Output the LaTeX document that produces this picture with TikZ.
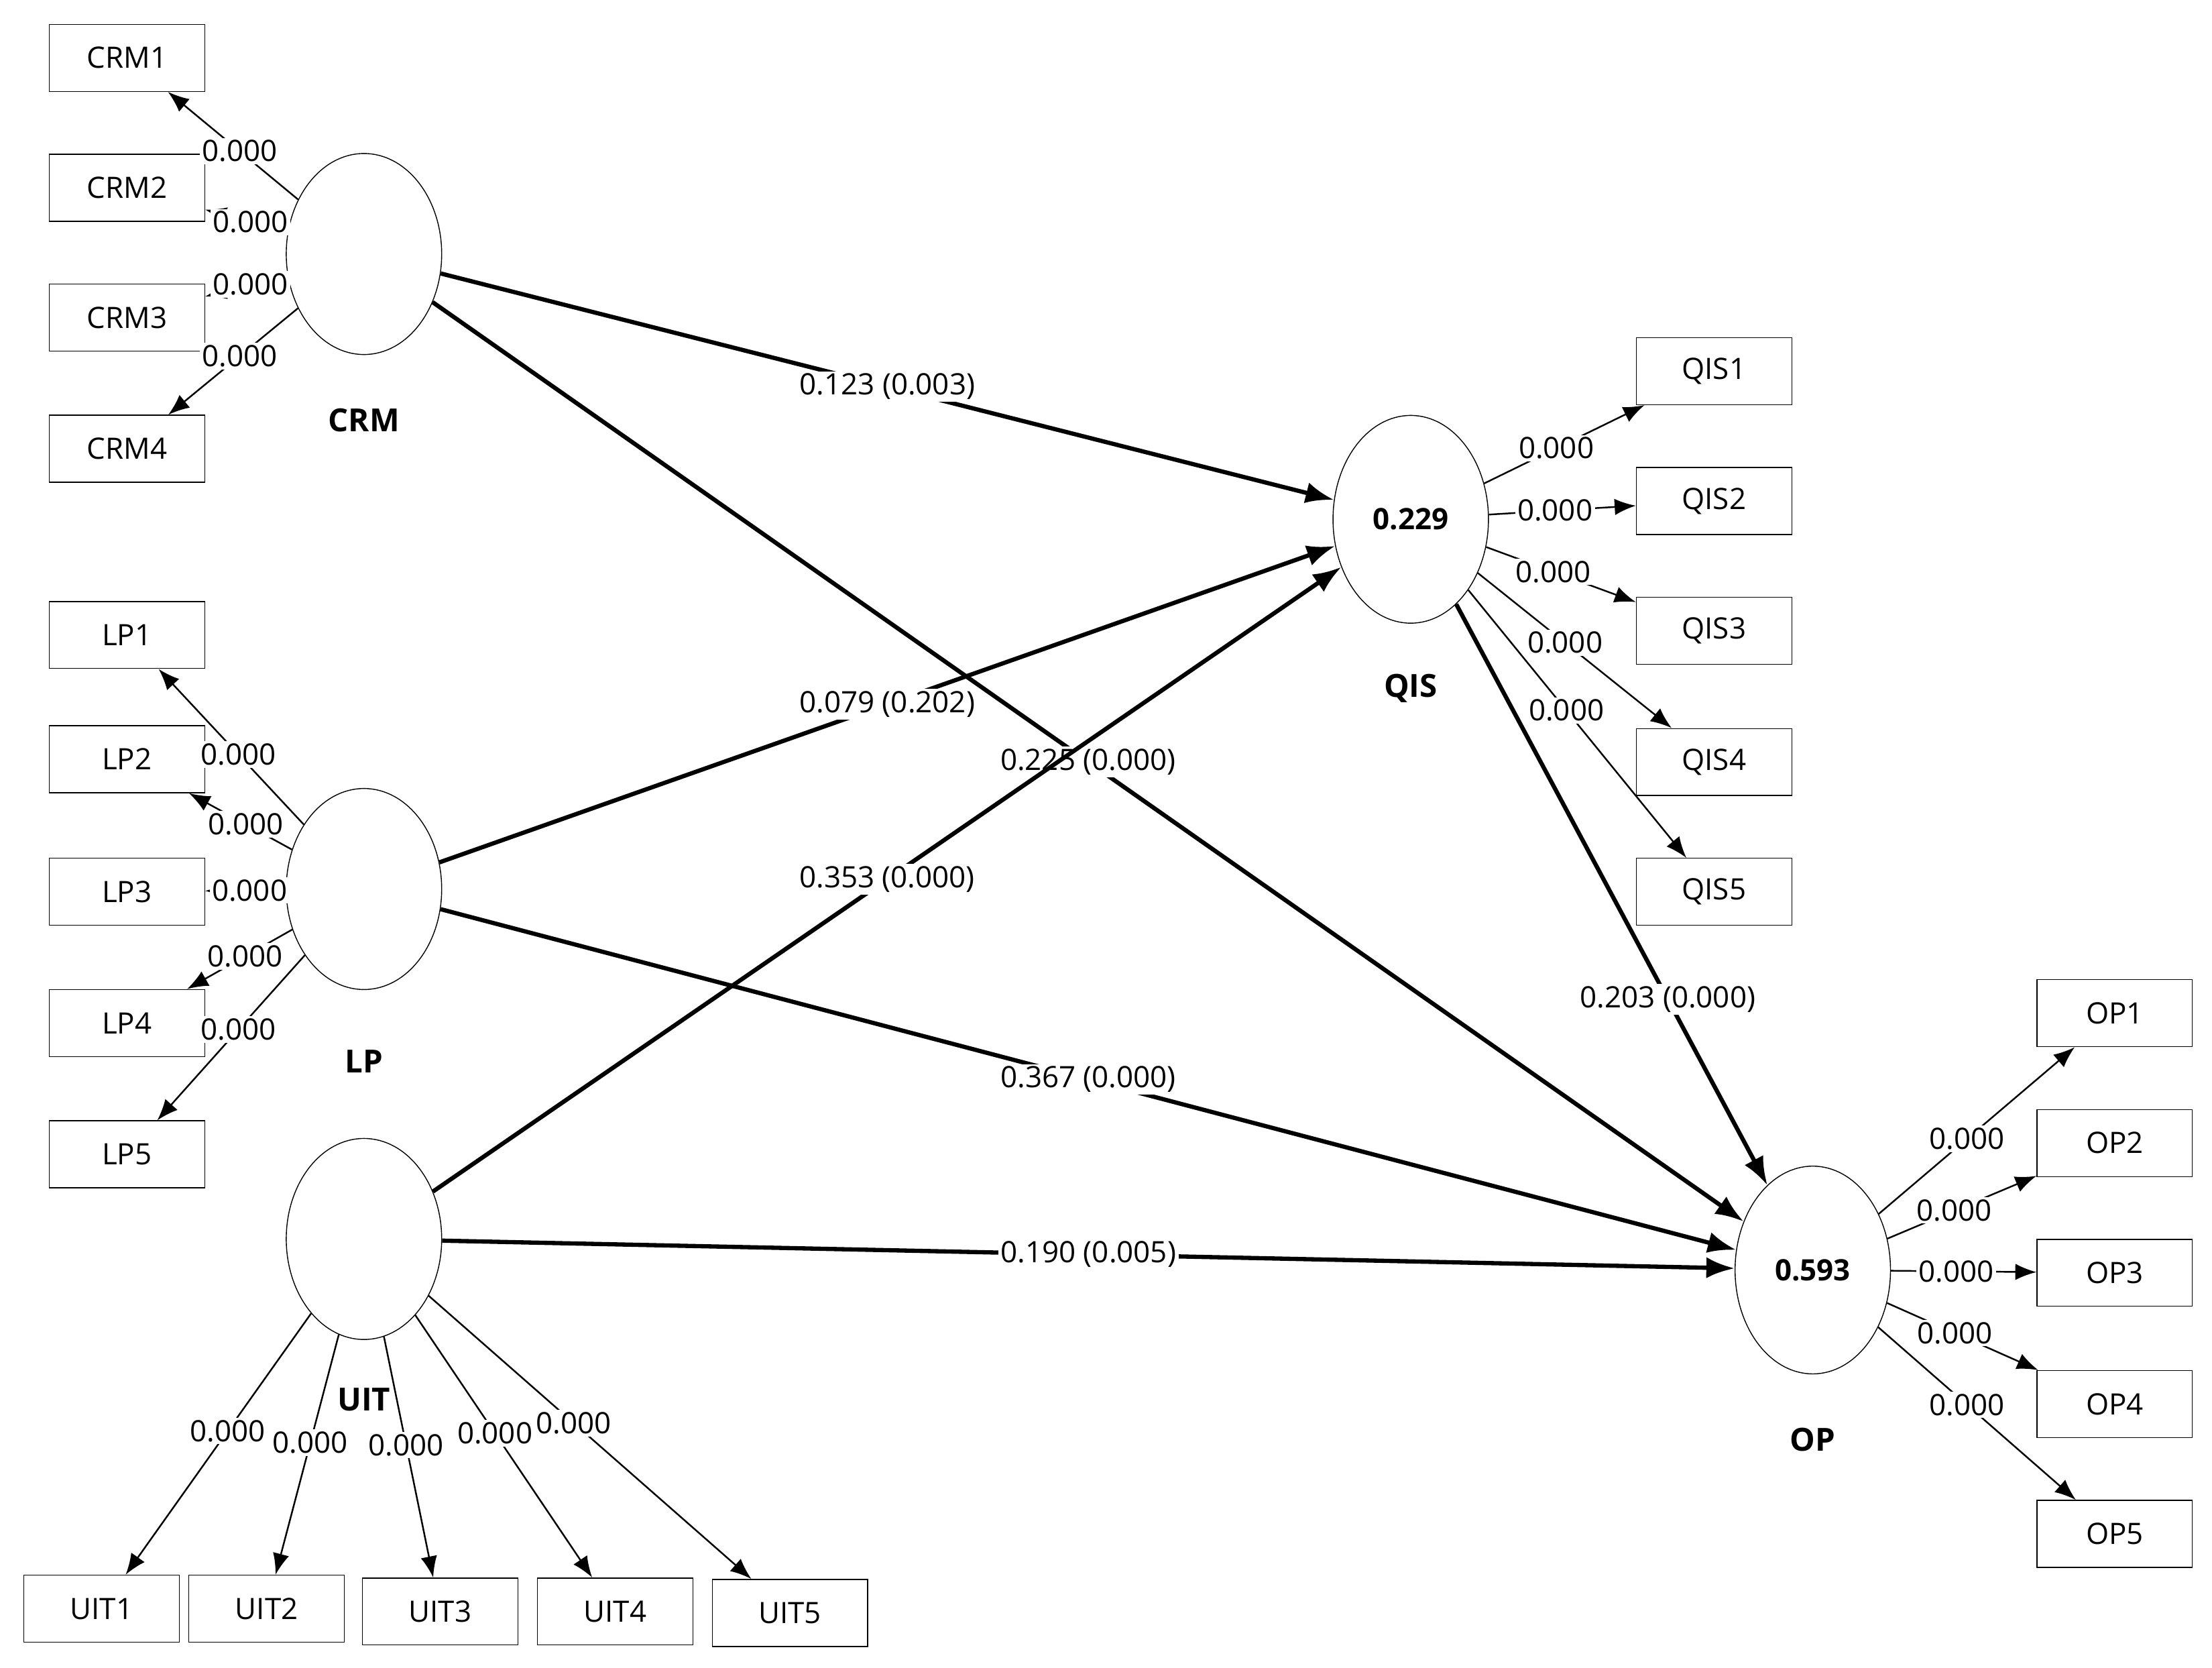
\documentclass[tikz,border=0pt]{standalone}
\usepackage{fontspec}
\setmainfont{Open Sans}
\usetikzlibrary{shapes.geometric,arrows.meta}
\begin{document}
\begin{tikzpicture}[x=0.02105cm,y=-0.02105cm,
  font=\fontsize{12.5}{14}\selectfont,
  box/.style={draw,minimum width=2.32cm,minimum height=1.0cm,inner sep=0pt},
  lv/.style={draw,ellipse,minimum width=2.32cm,minimum height=3.0cm,inner sep=0pt},
  nm/.style={font=\fontsize{13.5}{15}\selectfont\bfseries},
  ind/.style={-{Latex[length=9pt,width=7pt]},line width=0.7pt},
  path/.style={-{Latex[length=12pt,width=9pt]},line width=1.8pt},
  lab/.style={fill=white,inner sep=1pt}]
\useasboundingbox (0,0) rectangle (1568,1182);
% latent variables
\node[lv] (crm) at (258,180) {};
\node[lv] (lp) at (258,630) {};
\node[lv] (uit) at (258,878) {};
\node[lv,minimum height=3.1cm] (qis) at (1000,368) {\textbf{0.229}};
\node[lv,minimum height=3.1cm] (op) at (1285,900) {\textbf{0.593}};
\node[nm] (crmn) at (258,298) {CRM};
\node[nm] (lpn) at (258,752) {LP};
\node[nm] (uitn) at (258,992) {UIT};
\node[nm] (qisn) at (1000,488) {QIS};
\node[nm] (opn) at (1285,1020) {OP};
% indicators
\node[box] (crm1) at (90,41) {CRM1};
\node[box] (crm2) at (90,133) {CRM2};
\node[box] (crm3) at (90,225) {CRM3};
\node[box] (crm4) at (90,318) {CRM4};
\node[box] (lp1) at (90,450) {LP1};
\node[box] (lp2) at (90,538) {LP2};
\node[box] (lp3) at (90,632) {LP3};
\node[box] (lp4) at (90,725) {LP4};
\node[box] (lp5) at (90,818) {LP5};
\node[box] (qis1) at (1215,263) {QIS1};
\node[box] (qis2) at (1215,355) {QIS2};
\node[box] (qis3) at (1215,447) {QIS3};
\node[box] (qis4) at (1215,540) {QIS4};
\node[box] (qis5) at (1215,632) {QIS5};
\node[box] (op1) at (1499,718) {OP1};
\node[box] (op2) at (1499,810) {OP2};
\node[box] (op3) at (1499,902) {OP3};
\node[box] (op4) at (1499,995) {OP4};
\node[box] (op5) at (1499,1087) {OP5};
\node[box] (uit1) at (72,1140) {UIT1};
\node[box] (uit2) at (189,1140) {UIT2};
\node[box] (uit3) at (312,1142) {UIT3};
\node[box] (uit4) at (436,1142) {UIT4};
\node[box] (uit5) at (560,1143) {UIT5};
% loadings
\foreach \a in {crm1,crm2,crm3,crm4}
  \draw[ind] (crm) -- node[lab,pos=0.45] {0.000} (\a);
\foreach \a in {lp1,lp2,lp3,lp4,lp5}
  \draw[ind] (lp) -- node[lab,pos=0.45] {0.000} (\a);
\foreach \a in {qis1,qis2,qis3,qis4,qis5}
  \draw[ind] (qis) -- node[lab,pos=0.45] {0.000} (\a);
\foreach \a in {op1,op2,op3,op4,op5}
  \draw[ind] (op) -- node[lab,pos=0.45] {0.000} (\a);
\foreach \a in {uit1,uit2,uit3,uit4,uit5}
  \draw[ind] (uit) -- node[lab,pos=0.45] {0.000} (\a);
% structural paths
\draw[path] (crm) -- node[lab] {0.123 (0.003)} (qis);
\draw[path] (crm) -- node[lab] {0.225 (0.000)} (op);
\draw[path] (lp) -- node[lab] {0.079 (0.202)} (qis);
\draw[path] (lp) -- node[lab] {0.367 (0.000)} (op);
\draw[path] (uit) -- node[lab] {0.353 (0.000)} (qis);
\draw[path] (uit) -- node[lab] {0.190 (0.005)} (op);
\draw[path] (qis) -- node[lab,pos=0.68] {0.203 (0.000)} (op);
\end{tikzpicture}
\end{document}
